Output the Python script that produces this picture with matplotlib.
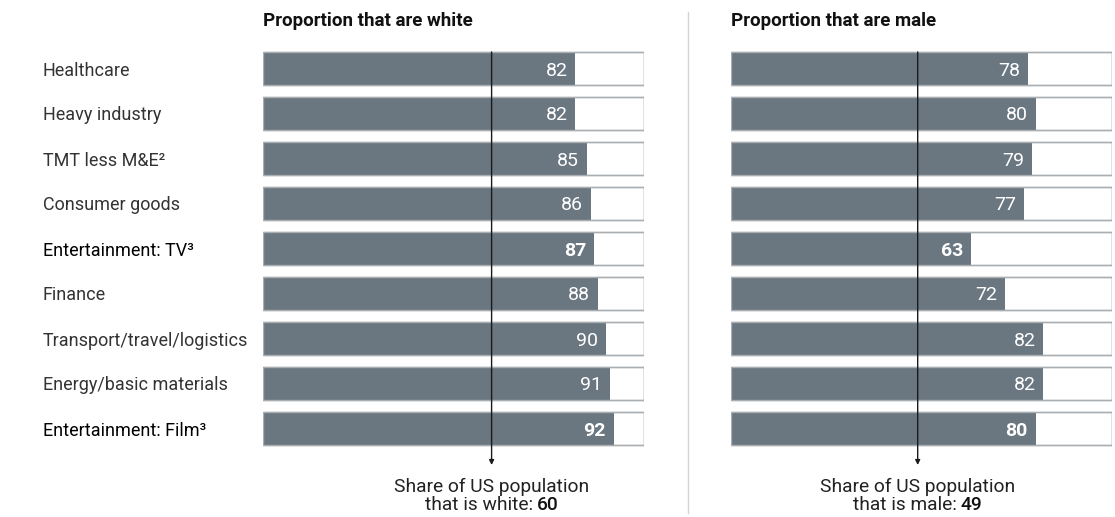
import numpy as np
import matplotlib
matplotlib.use("Agg")
import matplotlib.pyplot as plt

plt.rcParams['font.family'] = ['Roboto', 'DejaVu Sans']

# industries, top to bottom
industries = ['Healthcare', 'Heavy industry', 'TMT less M&E²', 'Consumer goods',
              'Entertainment: TV³', 'Finance', 'Transport/travel/logistics',
              'Energy/basic materials', 'Entertainment: Film³']
highlight = [False, False, False, False, True, False, False, False, True]

pct_white = [82, 82, 85, 86, 87, 88, 90, 91, 92]
pct_male = [78, 80, 79, 77, 63, 72, 82, 82, 80]

us_white = 60
us_male = 49

BAR = '#6a7680'
EDGE = '#a9aeb3'
W, H = 1115, 517

fig = plt.figure(figsize=(W / 100, H / 100), dpi=100)


def px_axes(x0, y0, x1, y1):
    return fig.add_axes([x0 / W, 1 - y1 / H, (x1 - x0) / W, (y1 - y0) / H])


def panel(ax, values, title, ref, ref_word):
    y = np.arange(len(values))
    ax.barh(y, 100, height=0.73, facecolor='white', edgecolor=EDGE, linewidth=1, zorder=1)
    ax.barh(y, values, height=0.73, color=BAR, zorder=2)
    ax.barh(y, 100, height=0.73, facecolor='none', edgecolor=EDGE, linewidth=1, zorder=3)
    ax.set_xlim(0, 100)
    ax.set_ylim(8.5, -0.5)
    ax.axis('off')
    for i, v in enumerate(values):
        ax.annotate(str(v), xy=(v, i), xytext=(-8, -2), textcoords='offset pixels',
                    ha='right', va='center', color='white', fontsize=14,
                    fontweight='bold' if highlight[i] else 'normal', zorder=4)
    ax.text(0, -1.05, title, ha='left', va='center', fontsize=13.5,
            fontweight='bold', color='#111111')
    # national reference line with arrow
    ax.annotate('', xy=(ref, 8.5 + 14 / 45), xytext=(ref, -0.5 + 6 / 45),
                arrowprops=dict(arrowstyle='-|>', color='#1a1a1a', lw=1,
                                mutation_scale=7, shrinkA=0, shrinkB=0),
                annotation_clip=False, zorder=5)
    ax.text(ref, 9.3, 'Share of US population', ha='center', va='center',
            fontsize=13.8, color='#222222')
    # second line: normal text followed by bold number, centred as a whole
    r = fig.canvas.get_renderer()
    t1 = ax.text(ref, 9.7, 'that is %s:' % ref_word, ha='left', va='center',
                 fontsize=13.8, color='#222222')
    t2 = ax.text(ref, 9.7, str(ref), ha='left', va='center', fontsize=13.8,
                 fontweight='medium', color='#111111')
    gap = 4
    w1 = t1.get_window_extent(r).width
    w2 = t2.get_window_extent(r).width
    per_px = 100 / ax.get_window_extent(r).width
    start = ref - (w1 + gap + w2) / 2 * per_px
    t1.set_x(start)
    t2.set_x(start + (w1 + gap) * per_px)


ax1 = px_axes(263, 46, 644, 451)
ax2 = px_axes(731, 46, 1112, 451)
panel(ax1, pct_white, 'Proportion that are white', us_white, 'white')
panel(ax2, pct_male, 'Proportion that are male', us_male, 'male')

for i, name in enumerate(industries):
    ax1.annotate(name, xy=(0, i), xycoords=('axes fraction', 'data'),
                 xytext=(-220, -2), textcoords='offset pixels', ha='left', va='center',
                 fontsize=13, color='#000000' if highlight[i] else '#333333')

# divider between the two panels
fig.add_artist(plt.Line2D([688 / W, 688 / W], [1 - 12 / H, 1 - 513 / H],
                          color='#d4d4d4', lw=1))

fig.savefig('out.png', dpi=100, facecolor='white')
